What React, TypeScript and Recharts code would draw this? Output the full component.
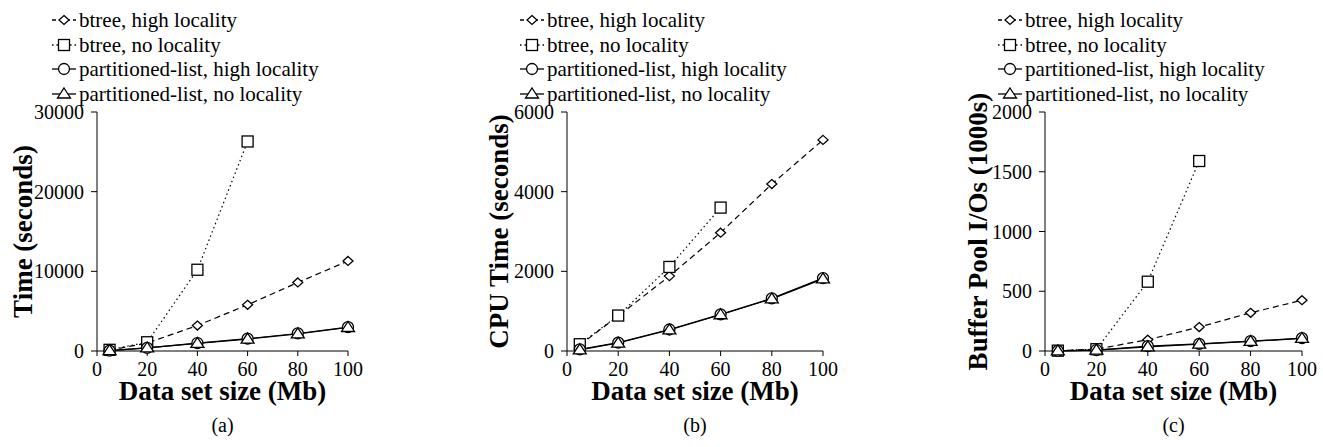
import React from "react";
import { LineChart, Line, XAxis, YAxis, Legend, Label } from "recharts";

// ---- data ----
const dataSizes = [5, 20, 40, 60, 80, 100];
const xTicks = [0, 20, 40, 60, 80, 100];
const xMinorTicks = [5, 10, 15, 25, 30, 35, 45, 50, 55, 65, 70, 75, 85, 90, 95];

const seriesNames = [
  "btree, high locality",
  "btree, no locality",
  "partitioned-list, high locality",
  "partitioned-list, no locality",
];

// (a) Time (seconds)
const timeBtreeHigh = [100, 1000, 3200, 5800, 8600, 11300];
const timeBtreeNo = [150, 1100, 10200, 26300, null, null];
const timePartHigh = [50, 400, 1000, 1550, 2200, 3000];
const timePartNo = [40, 380, 950, 1500, 2150, 2950];
const timeTicks = [0, 10000, 20000, 30000];
const timeMinor = [2000, 4000, 6000, 8000, 12000, 14000, 16000, 18000, 22000, 24000, 26000, 28000];

// (b) CPU Time (seconds)
const cpuBtreeHigh = [150, 880, 1880, 2970, 4190, 5300];
const cpuBtreeNo = [170, 890, 2110, 3600, null, null];
const cpuPartHigh = [40, 210, 540, 920, 1320, 1830];
const cpuPartNo = [30, 200, 530, 910, 1310, 1810];
const cpuTicks = [0, 2000, 4000, 6000];
const cpuMinor = [500, 1000, 1500, 2500, 3000, 3500, 4500, 5000, 5500];

// (c) Buffer Pool I/Os (1000s)
const ioBtreeHigh = [2, 15, 95, 200, 320, 425];
const ioBtreeNo = [3, 15, 580, 1590, null, null];
const ioPartHigh = [1, 8, 40, 60, 82, 108];
const ioPartNo = [1, 7, 35, 58, 80, 105];
const ioTicks = [0, 500, 1000, 1500, 2000];
const ioMinor = [100, 200, 300, 400, 600, 700, 800, 900, 1100, 1200, 1300, 1400, 1600, 1700, 1800, 1900];

const FONT = "'Liberation Serif', 'Times New Roman', serif";

type Shape = "diamond" | "square" | "circle" | "triangle";

function shapeEl(shape: Shape, cx: number, cy: number, key?: any) {
  const common = { stroke: "#000", strokeWidth: 1.3, fill: "#fff", key };
  if (shape === "diamond")
    return <path {...common} d={`M${cx},${cy - 4.5}L${cx + 5},${cy}L${cx},${cy + 4.5}L${cx - 5},${cy}Z`} />;
  if (shape === "square")
    return <rect {...common} x={cx - 5.5} y={cy - 5.5} width={11} height={11} />;
  if (shape === "circle") return <circle {...common} cx={cx} cy={cy} r={5.5} />;
  return <path {...common} d={`M${cx},${cy - 6}L${cx + 6.5},${cy + 4}L${cx - 6.5},${cy + 4}Z`} />;
}

const makeDot = (shape: Shape) => (props: any) => {
  const { cx, cy, index, value } = props;
  if (cx == null || cy == null || value == null || Number.isNaN(cy)) return <g key={`d${index}`} />;
  return shapeEl(shape, cx, cy, `d${index}`);
};

const styles: { key: string; shape: Shape; dash?: string }[] = [
  { key: "bh", shape: "diamond", dash: "6 4" },
  { key: "bn", shape: "square", dash: "1.5 3" },
  { key: "ph", shape: "circle" },
  { key: "pn", shape: "triangle" },
];

const LegendBox = () => (
  <div style={{ fontFamily: FONT, fontSize: 21, lineHeight: "24.5px", color: "#000", whiteSpace: "nowrap" }}>
    {styles.map((s, i) => (
      <div key={s.key} style={{ display: "flex", alignItems: "center", height: 24.5 }}>
        <svg width={24} height={16} style={{ display: "block" }}>
          <line x1={0} y1={8} x2={24} y2={8} stroke="#000" strokeWidth={1.3} strokeDasharray={s.dash === "6 4" ? "4 3" : s.dash} />
          {shapeEl(s.shape, 12, 8)}
        </svg>
        <span style={{ marginLeft: 3 }}>{seriesNames[i]}</span>
      </div>
    ))}
  </div>
);

type PanelProps = {
  left: number;
  width: number;
  marginLeft: number;
  marginRight: number;
  yMax: number;
  yTicks: number[];
  yMinor: number[];
  yLabel: string;
  yLabelOffset: number;
  letter: string;
  legendLeft: number;
  bh: (number | null)[];
  bn: (number | null)[];
  ph: (number | null)[];
  pn: (number | null)[];
};

const tickStyle = { fontFamily: FONT, fontSize: 20, fill: "#000" };
const boldLabel = { fontFamily: FONT, fontSize: 27, fontWeight: 700, fill: "#000" };

function Panel(p: PanelProps) {
  const data = dataSizes.map((x, i) => ({ x, bh: p.bh[i], bn: p.bn[i], ph: p.ph[i], pn: p.pn[i] }));
  return (
    <div style={{ position: "absolute", left: p.left, top: 0 }}>
      <LineChart
        width={p.width}
        height={447}
        data={data}
        margin={{ top: 112, right: p.marginRight, bottom: 36, left: p.marginLeft }}
      >
        <XAxis
          xAxisId="minor"
          dataKey="x"
          type="number"
          domain={[0, 100]}
          ticks={xMinorTicks}
          tick={false}
          axisLine={false}
          tickSize={3}
          mirror
          height={0}
          stroke="#000"
        />
        <XAxis
          dataKey="x"
          type="number"
          domain={[0, 100]}
          ticks={xTicks}
          tick={tickStyle}
          tickSize={5}
          tickMargin={6}
          height={60}
          stroke="#000"
          interval={0}
        >
          <Label value="Data set size (Mb)" position="insideTop" offset={30} style={boldLabel} />
          <Label value={p.letter} position="insideTop" offset={67} style={tickStyle} />
        </XAxis>
        <YAxis
          yAxisId="minor"
          type="number"
          domain={[0, p.yMax]}
          ticks={p.yMinor}
          tick={false}
          axisLine={false}
          tickSize={3}
          mirror
          width={0}
          stroke="#000"
        />
        <YAxis
          type="number"
          domain={[0, p.yMax]}
          ticks={p.yTicks}
          tick={tickStyle}
          tickSize={6}
          tickMargin={7}
          width={80}
          stroke="#000"
          interval={0}
        >
          <Label
            value={p.yLabel}
            angle={-90}
            position="insideLeft"
            offset={p.yLabelOffset}
            style={{ ...boldLabel, textAnchor: "middle" }}
          />
        </YAxis>
        <Legend
          layout="horizontal"
          verticalAlign="middle"
          align="center"
          wrapperStyle={{ position: "absolute", top: 8, left: p.legendLeft, width: "auto", height: "auto" }}
          content={() => <LegendBox />}
        />
        {styles.map((s) => (
          <Line
            key={s.key}
            dataKey={s.key}
            stroke="#000"
            strokeWidth={1.2}
            strokeDasharray={s.dash}
            dot={makeDot(s.shape)}
            isAnimationActive={false}
            type="linear"
          />
        ))}
      </LineChart>
    </div>
  );
}

export default function App() {
  return (
    <div style={{ position: "absolute", left: 0, top: 0, width: 1323, height: 447, background: "#fff", overflow: "hidden" }}>
      <Panel
        left={0}
        width={440}
        marginLeft={17}
        marginRight={92}
        yMax={30000}
        yTicks={timeTicks}
        yMinor={timeMinor}
        yLabel="Time (seconds)"
        yLabelOffset={5}
        letter="(a)"
        legendLeft={52}
        bh={timeBtreeHigh}
        bn={timeBtreeNo}
        ph={timePartHigh}
        pn={timePartNo}
      />
      <Panel
        left={440}
        width={440}
        marginLeft={47}
        marginRight={57}
        yMax={6000}
        yTicks={cpuTicks}
        yMinor={cpuMinor}
        yLabel="CPU Time (seconds)"
        yLabelOffset={11}
        letter="(b)"
        legendLeft={80}
        bh={cpuBtreeHigh}
        bn={cpuBtreeNo}
        ph={cpuPartHigh}
        pn={cpuPartNo}
      />
      <Panel
        left={880}
        width={443}
        marginLeft={85}
        marginRight={21}
        yMax={2000}
        yTicks={ioTicks}
        yMinor={ioMinor}
        yLabel="Buffer Pool I/Os (1000s)"
        yLabelOffset={12}
        letter="(c)"
        legendLeft={118}
        bh={ioBtreeHigh}
        bn={ioBtreeNo}
        ph={ioPartHigh}
        pn={ioPartNo}
      />
    </div>
  );
}
